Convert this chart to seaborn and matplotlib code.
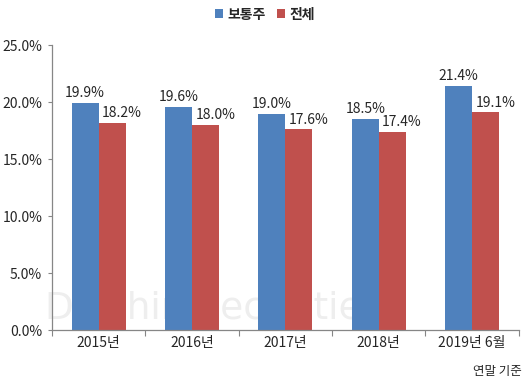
import matplotlib
matplotlib.use("Agg")
import matplotlib.pyplot as plt
import seaborn as sns
import pandas as pd
import numpy as np
from matplotlib.ticker import FuncFormatter, FixedLocator

categories = ["2015년", "2016년", "2017년", "2018년", "2019년 6월"]
series_names = ["보통주", "전체"]
common = [19.9, 19.6, 19.0, 18.5, 21.4]
total = [18.2, 18.0, 17.6, 17.4, 19.1]
colors = ["#4F81BD", "#C0504D"]

sns.set_theme(style="white")
plt.rcParams['font.family'] = ['Noto Sans CJK KR', 'DejaVu Sans']

df = pd.DataFrame({
    "cat": categories * 2,
    "series": [series_names[0]] * len(categories) + [series_names[1]] * len(categories),
    "val": common + total,
})

fig = plt.figure(figsize=(5.30, 3.86), dpi=100)
ax = fig.add_axes([0.098, 0.145, 0.881, 0.738])

# watermark (behind bars)
ax.text(0.085, 0.175, "Daishin Securities", fontsize=27, color="#eeeeee",
        family="DejaVu Sans", transform=fig.transFigure, zorder=0, clip_on=False)

sns.barplot(data=df, x="cat", y="val", hue="series", palette=colors,
            width=0.58, gap=0, saturation=1, ax=ax, legend=True, zorder=2,
            linewidth=0, edgecolor="none")

ax.set_ylim(0, 25)
ax.set_xlim(-0.5, len(categories) - 0.5)
ax.set_yticks(np.arange(0, 25.1, 5))
ax.yaxis.set_major_formatter(FuncFormatter(lambda v, p: f"{v:.1f}%"))
ax.set_xlabel("")
ax.set_ylabel("")
ax.tick_params(axis="y", labelsize=10, length=3, width=0.8, color="#868686", left=True, pad=4)
ax.tick_params(axis="x", labelsize=10, length=0, pad=4)
ax.xaxis.set_minor_locator(FixedLocator(np.arange(-0.5, len(categories), 1)))
ax.tick_params(axis="x", which="minor", length=4, width=0.8, color="#868686", bottom=True)
for s in ["top", "right"]:
    ax.spines[s].set_visible(False)
for s in ["left", "bottom"]:
    ax.spines[s].set_color("#868686")
    ax.spines[s].set_linewidth(0.9)

# data labels
for ci, cont in enumerate(ax.containers):
    vals = common if ci == 0 else total
    for bar, v in zip(cont, vals):
        x = bar.get_x() + bar.get_width() / 2
        dx = 7 if ci == 1 else 0
        ax.annotate(f"{v:.1f}%", (x, v), xytext=(dx, 2), textcoords="offset points",
                    ha="center", va="bottom", fontsize=10, zorder=3)

leg = ax.legend(loc="center", bbox_to_anchor=(0.5, 0.962), bbox_transform=fig.transFigure,
                ncol=2, frameon=False, fontsize=10, handlelength=0.6, handleheight=0.6,
                handletextpad=0.3, columnspacing=0.8)
for t in leg.get_texts():
    t.set_fontweight("bold")

fig.text(0.985, 0.02, "연말 기준", ha="right", va="bottom", fontsize=9)

fig.savefig("out.png", dpi=100)
